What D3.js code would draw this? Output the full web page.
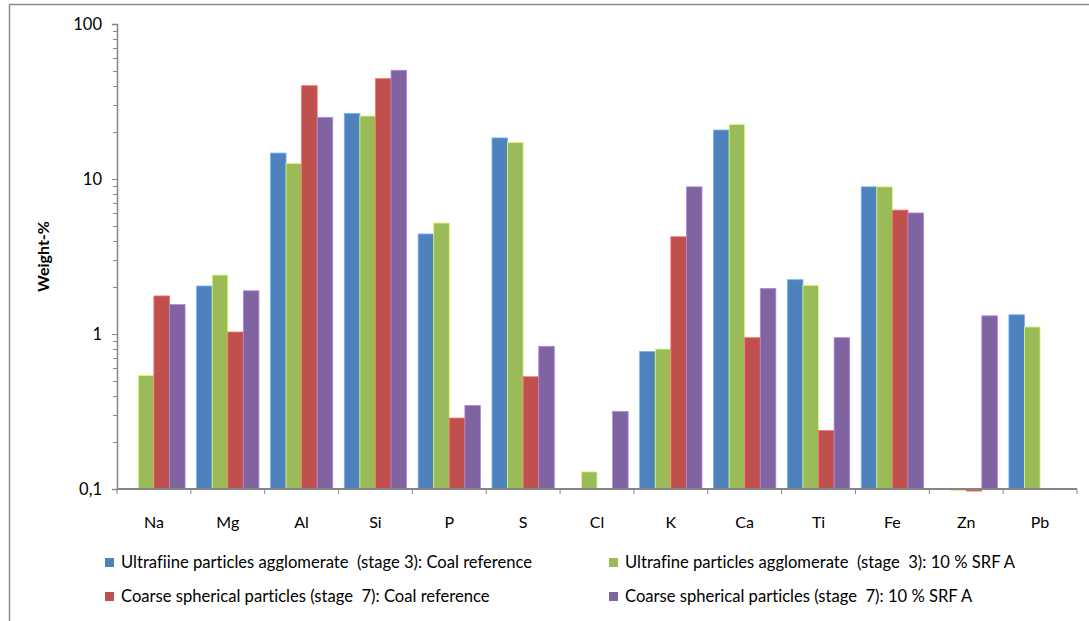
<!DOCTYPE html>
<html>
<head>
<meta charset="utf-8">
<script src="https://cdn.jsdelivr.net/npm/d3@7"></script>
<style>
  html, body { margin: 0; padding: 0; background: #fff; }
  svg { display: block; }
  text { font-family: Lato, "Open Sans", sans-serif; fill: #000; font-variant-ligatures: none; font-feature-settings: "liga" 0; }
</style>
</head>
<body>
<svg id="chart" width="1089" height="621"></svg>
<script>
// ---- data ----
const categories = ["Na","Mg","Al","Si","P","S","Cl","K","Ca","Ti","Fe","Zn","Pb"];
const seriesNames = [
  "Ultrafiine particles agglomerate  (stage 3): Coal reference",
  "Ultrafine particles agglomerate  (stage  3): 10 % SRF A",
  "Coarse spherical particles (stage  7): Coal reference",
  "Coarse spherical particles (stage  7): 10 % SRF A"
];
const ultrafineCoal = [null, 2.04, 14.7, 26.5, 4.42, 18.4, null, 0.77, 20.7, 2.24, 8.9, null, 1.33];
const ultrafineSRF  = [0.54, 2.4, 12.6, 25.5, 5.2, 17.2, 0.129, 0.80, 22.5, 2.06, 8.9, 0.098, 1.11];
const coarseCoal    = [1.76, 1.03, 40.0, 44.4, 0.287, 0.53, null, 4.24, 0.947, 0.238, 6.3, 0.097, null];
const coarseSRF     = [1.55, 1.9, 25.0, 50.3, 0.346, 0.833, 0.317, 8.9, 1.97, 0.947, 6.04, 1.31, null];
const yTickValues = [0.1, 1, 10, 100];
const yTickLabels = ["0,1", "1", "10", "100"];
const colors = ["#4F81BD", "#9BBB59", "#C0504D", "#8064A2"];
const seriesValues = [ultrafineCoal, ultrafineSRF, coarseCoal, coarseSRF];

// ---- layout ----
const svg = d3.select("#chart");
const margin = {left: 117, right: 12, top: 24, bottom: 132};
const W = 1089, H = 621;
const x0 = margin.left, x1 = W - margin.right;
const yTop = margin.top, yBot = H - margin.bottom;

// outer chart border
svg.append("path")
  .attr("d", `M9.5,${H+2} L9.5,4.5 L${W+2},4.5`)
  .attr("fill", "none").attr("stroke", "#8c8c8c").attr("stroke-width", 1.5);

const x = d3.scaleBand().domain(categories).range([x0, x1]).paddingInner(0).paddingOuter(0);
const xs = d3.scaleBand().domain(d3.range(4)).range([0, x.bandwidth()]).paddingOuter(0.37).paddingInner(0);
const y = d3.scaleLog().domain([0.1, 100]).range([yBot, yTop]);

// bars
const g = svg.append("g");
seriesValues.forEach((vals, si) => {
  g.selectAll(null)
    .data(vals.map((v, i) => ({v, c: categories[i]})).filter(d => d.v != null))
    .enter().append("rect")
    .attr("x", d => x(d.c) + xs(si))
    .attr("width", xs.bandwidth())
    .attr("y", d => Math.min(y(d.v), y(0.1)))
    .attr("height", d => Math.abs(y(0.1) - y(d.v)))
    .attr("fill", colors[si])
    .attr("stroke", d3.color(colors[si]).brighter(0.9))
    .attr("stroke-width", 0.8);
});

// y axis
const minorTicks = [];
for (let d = 0.1; d < 100; d *= 10) for (let k = 2; k <= 9; k++) minorTicks.push(+(d * k).toPrecision(3));
const yAxis = d3.axisLeft(y).tickValues(yTickValues)
  .tickFormat((d, i) => yTickLabels[i]).tickSize(5).tickPadding(10);
const ya = svg.append("g").attr("transform", `translate(${x0},0)`).call(yAxis);
ya.selectAll(".tick line").attr("stroke", "#868686");
ya.select(".domain").attr("stroke", "#868686").attr("stroke-width", 1.5);
ya.selectAll("text").attr("font-size", 16.5).attr("font-family", "Lato, sans-serif");
svg.append("g").selectAll("line").data(minorTicks).enter().append("line")
  .attr("x1", x0 - 4).attr("x2", x0).attr("y1", d => Math.round(y(d)) + 0.5).attr("y2", d => Math.round(y(d)) + 0.5)
  .attr("stroke", "#868686");

// x axis
const xa = svg.append("g").attr("transform", `translate(0,${yBot})`);
xa.append("line").attr("x1", x0).attr("x2", x1).attr("y1", 0).attr("y2", 0)
  .attr("stroke", "#868686").attr("stroke-width", 2);
const bounds = categories.map(c => x(c)).concat([x1]);
xa.selectAll("line.tk").data(bounds).enter().append("line").attr("class", "tk")
  .attr("x1", d => d).attr("x2", d => d).attr("y1", 0).attr("y2", 5).attr("stroke", "#868686");
xa.selectAll("text").data(categories).enter().append("text")
  .attr("x", d => x(d) + x.bandwidth() / 2).attr("y", 39)
  .attr("text-anchor", "middle").attr("font-size", 16).text(d => d);

// y title
svg.append("text")
  .attr("transform", `translate(49,${(yTop + yBot) / 2}) rotate(-90)`)
  .attr("text-anchor", "middle").attr("font-size", 16).attr("font-weight", "bold")
  .text("Weight-%");

// legend
const legPos = [[105, 568], [609, 568], [105, 602], [609, 602]];
[0, 1, 2, 3].forEach((si, k) => {
  const [lx, ly] = legPos[k];
  svg.append("rect").attr("x", lx).attr("y", ly - 10).attr("width", 9).attr("height", 9).attr("fill", colors[si]);
  svg.append("text").attr("x", lx + 16).attr("y", ly).attr("font-size", 16.6)
    .attr("xml:space", "preserve").style("white-space", "pre").text(seriesNames[si]);
});
</script>
</body>
</html>
